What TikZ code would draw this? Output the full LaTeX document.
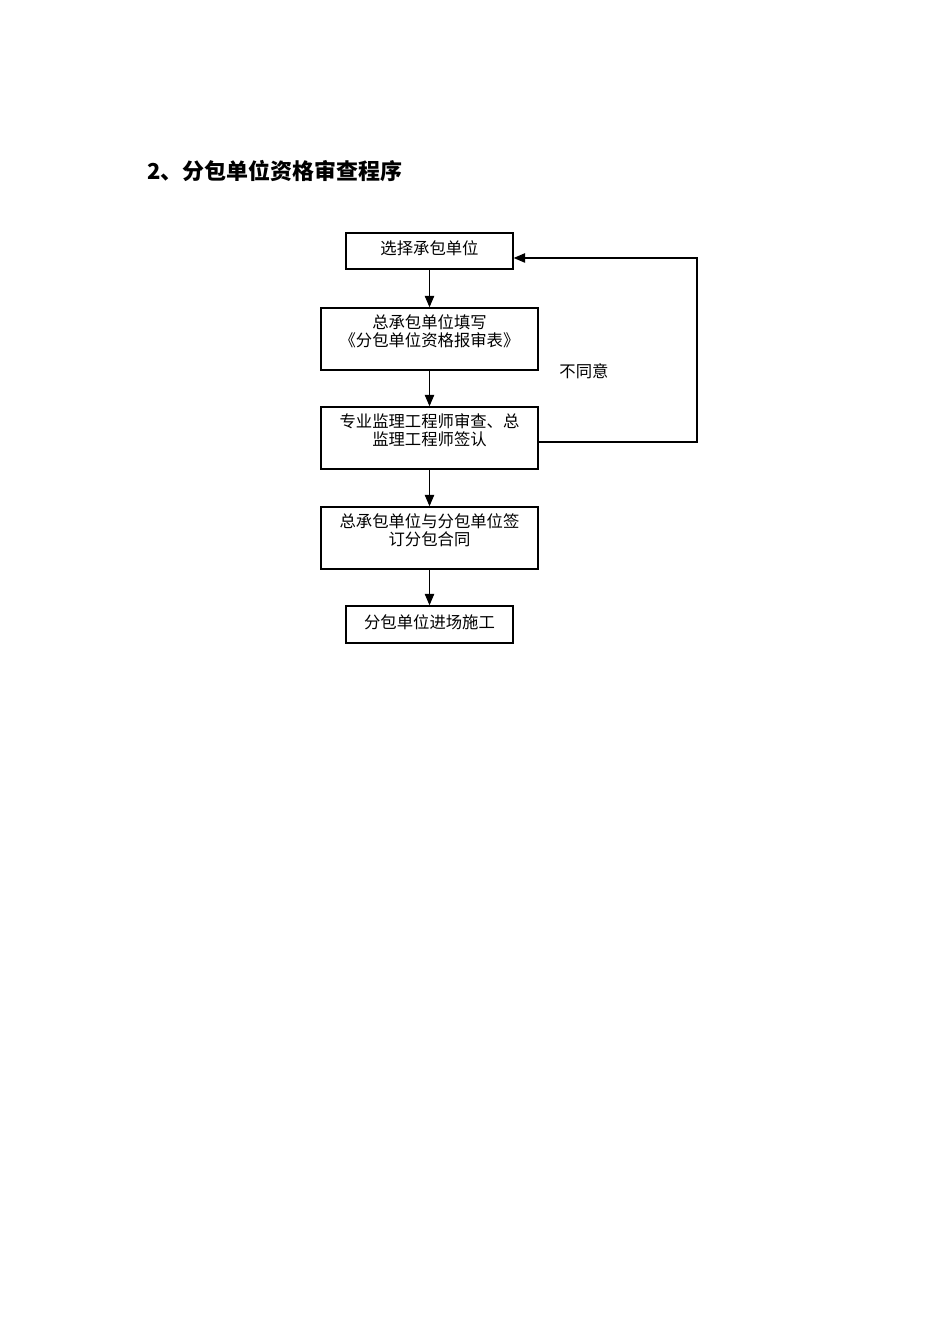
\documentclass[tikz,border=0pt]{standalone}
\usepackage{fontspec}
\newfontfamily\cjk{Noto Sans CJK SC}
\usetikzlibrary{arrows.meta}
\usetikzlibrary{positioning}
\tikzset{
  stepbox/.style={draw, line width=0.8pt, inner sep=0pt},
  steptext/.style={font=\cjk\fontsize{9.3pt}{10.3pt}\selectfont, align=center, inner sep=0pt},
  flow/.style={line width=0.6pt, -{Triangle[length=0.23cm, width=0.19cm]}}
}

\begin{document}
\begin{tikzpicture}
      \useasboundingbox (0,0) rectangle (19,26.88);
      \node[font=\cjk\bfseries\fontsize{12.5pt}{14pt}\selectfont, anchor=west, inner sep=0pt] (title) at (2.94,23.46) {2、分包单位资格审查程序};
      % boxes
      \node[stepbox, minimum width=3.34cm, minimum height=0.72cm] (choose) at (8.59,21.86) {};
      \node[stepbox, minimum width=4.34cm, minimum height=1.24cm] (fill)   at (8.59,20.10) {};
      \node[stepbox, minimum width=4.34cm, minimum height=1.24cm] (check)  at (8.59,18.12) {};
      \node[stepbox, minimum width=4.34cm, minimum height=1.24cm] (sign)   at (8.59,16.12) {};
      \node[stepbox, minimum width=3.34cm, minimum height=0.74cm] (enter)  at (8.59,14.39) {};
      % texts
      \node[steptext] (choosetxt) at (8.59,21.92) {选择承包单位};
      \node[steptext] (filltxt)   at (8.59,20.26) {总承包单位填写\\《分包单位资格报审表》};
      \node[steptext] (checktxt)  at (8.59,18.28) {专业监理工程师审查、总\\监理工程师签认};
      \node[steptext] (signtxt)   at (8.59,16.28) {总承包单位与分包单位签\\订分包合同};
      \node[steptext] (entertxt)  at (8.59,14.43) {分包单位进场施工};
      \node[steptext] (refuse)    at (11.68,19.46) {不同意};
      % arrows
      \draw[flow] (choose) -- (fill);
      \draw[flow] (fill) -- (check);
      \draw[flow] (check) -- (sign);
      \draw[flow] (sign) -- (enter);
      \coordinate (back) at (13.94,18.04);
      \draw[flow] (check.east |- back) -- (back) |- ([yshift=-0.14cm]choose.east);
    \end{tikzpicture}
\end{document}
